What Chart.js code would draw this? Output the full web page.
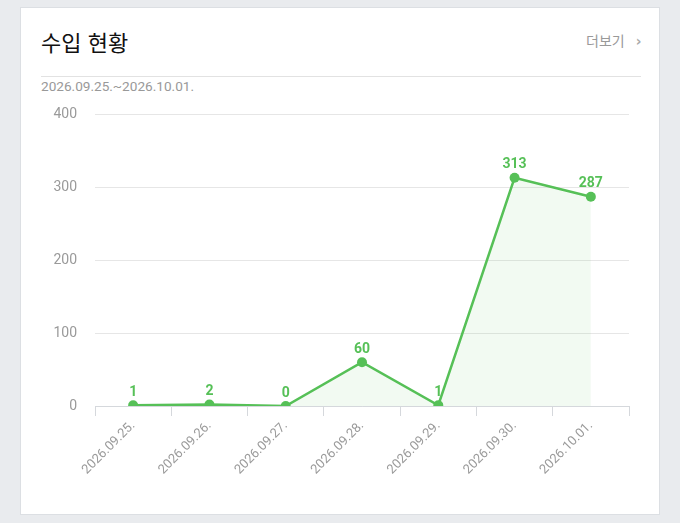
<!DOCTYPE html>
<html lang="ko">
<head>
<meta charset="utf-8">
<script src="https://cdn.jsdelivr.net/npm/chart.js@4"></script>
<style>
  html, body { margin: 0; padding: 0; }
  body {
    width: 680px; height: 523px; background: #e9ebee; position: relative; overflow: hidden;
    font-family: Roboto, "Noto Sans CJK KR", sans-serif;
  }
  .card {
    position: absolute; left: 20px; top: 7px; width: 638px; height: 506px;
    background: #fff; border: 1px solid #dcdfe3;
  }
  .title {
    position: absolute; left: 20px; top: 22px; font-size: 22px; color: #111;
    font-family: "Noto Sans CJK KR", sans-serif; line-height: 1;
  }
  .more {
    position: absolute; left: 565px; top: 22px; font-size: 14px; color: #999;
    font-family: "Noto Sans CJK KR", sans-serif;
  }
  .more span { margin-left: 11px; color: #aaa; font-size: 14px; font-weight: bold; font-family: "DejaVu Sans", sans-serif; }
  .sep { position: absolute; left: 20px; top: 68px; width: 600px; height: 1px; background: #e2e2e2; }
  .range { position: absolute; left: 20px; top: 70px; font-size: 13.6px; color: #999; }
  .wrap { position: absolute; left: 10px; top: 80px; width: 610px; height: 412px; }
</style>
</head>
<body>
<div class="card">
  <div class="title">수입 현황</div>
  <div class="more">더보기<span>›</span></div>
  <div class="sep"></div>
  <div class="range">2026.09.25.~2026.10.01.</div>
  <div class="wrap"><canvas id="incomeChart" width="610" height="412"></canvas></div>
</div>
<script>
  // ===== Data =====
  const dateLabels = ["2026.09.25.", "2026.09.26.", "2026.09.27.", "2026.09.28.", "2026.09.29.", "2026.09.30.", "2026.10.01."];
  const incomeValues = [1, 2, 0, 60, 1, 313, 287];
  const yTicks = [0, 100, 200, 300, 400];

  const GREEN = "#56c057";

  // draw value labels above each point
  const valueLabels = {
    id: "valueLabels",
    afterDatasetsDraw(chart) {
      const ctx = chart.ctx;
      const meta = chart.getDatasetMeta(0);
      ctx.save();
      ctx.fillStyle = GREEN;
      ctx.font = "bold 14px Roboto, sans-serif";
      ctx.textAlign = "center";
      ctx.textBaseline = "bottom";
      meta.data.forEach((pt, i) => {
        ctx.fillText(String(incomeValues[i]), pt.x, pt.y - 6);
      });
      ctx.restore();
    }
  };

  new Chart(document.getElementById("incomeChart"), {
    type: "line",
    data: {
      labels: dateLabels,
      datasets: [{
        data: incomeValues,
        borderColor: GREEN,
        backgroundColor: "rgba(86,192,87,0.08)",
        borderWidth: 2.5,
        fill: "origin",
        tension: 0,
        pointRadius: 5,
        pointBackgroundColor: GREEN,
        pointBorderColor: GREEN,
        pointBorderWidth: 0
      }]
    },
    options: {
      responsive: false,
      animation: false,
      layout: { padding: { top: 11, right: 12, left: 0, bottom: 0 } },
      plugins: { legend: { display: false }, tooltip: { enabled: false } },
      scales: {
        x: {
          offset: true,
          grid: { offset: true, drawOnChartArea: false, drawTicks: true, tickLength: 10, color: "#d5d8dc" },
          border: { color: "#d5d8dc" },
          ticks: {
            color: "#9a9a9a", font: { size: 13, family: "Roboto, sans-serif" },
            maxRotation: 45, minRotation: 45, padding: 2
          },
          afterFit(scale) { scale.height = 94; }
        },
        y: {
          min: 0, max: 400,
          afterBuildTicks(scale) { scale.ticks = yTicks.map(v => ({ value: v })); },
          grid: { drawTicks: false, color: "#e6e6e6" },
          border: { display: false },
          ticks: { color: "#9a9a9a", font: { size: 14, family: "Roboto, sans-serif" }, padding: 18 },
          afterFit(scale) { scale.width = 64; }
        }
      }
    },
    plugins: [valueLabels]
  });
</script>
</body>
</html>
